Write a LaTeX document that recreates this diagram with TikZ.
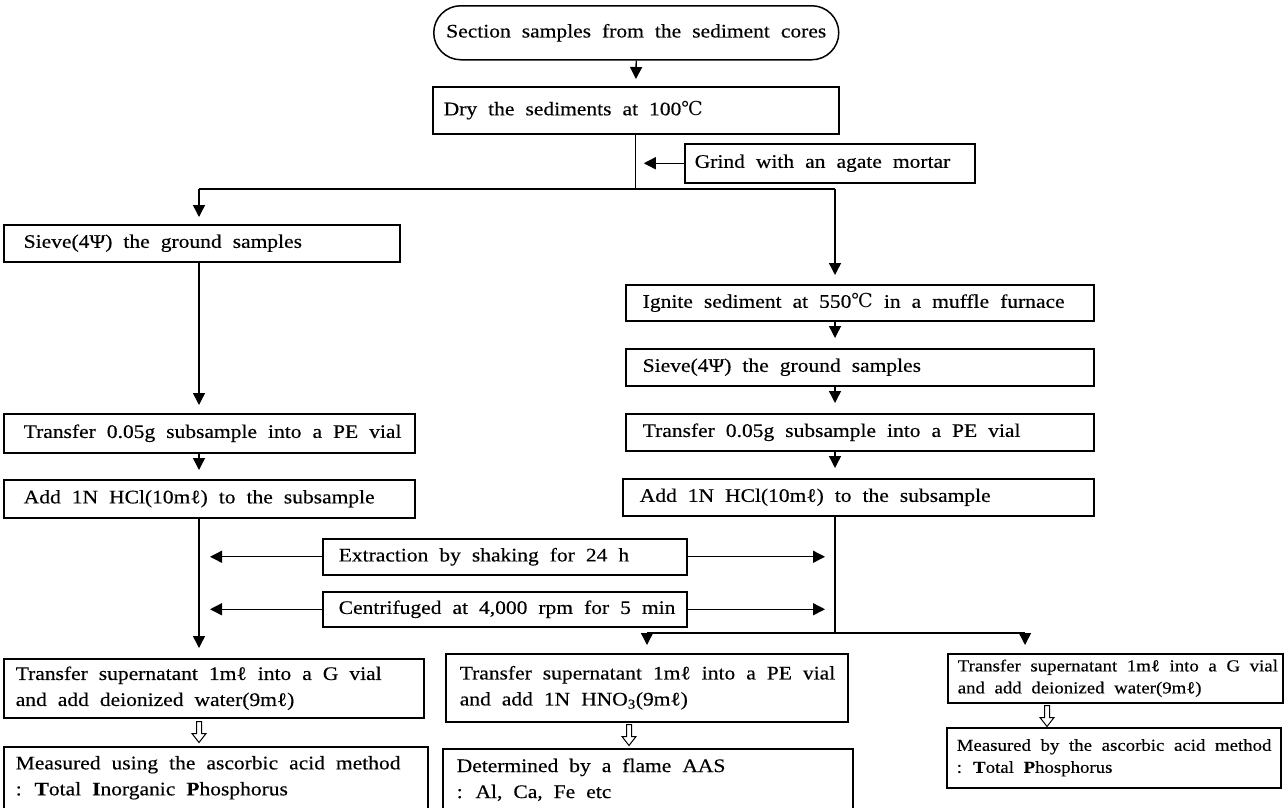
\documentclass[tikz,border=0pt]{standalone}
\usepackage{fontspec}
\setmainfont{Liberation Serif}[FakeStretch=1.12,WordSpace=2.05,FakeBold=0.35]
\newfontfamily\symf{DejaVu Serif}
\usetikzlibrary{arrows.meta}
\newcommand\degC{{\symf ℃}}
\newcommand\BoxLine[3]{\makebox[\dimexpr#1pt-6pt\relax][l]{\hspace*{\dimexpr#2pt-3pt\relax}#3}}
\begin{document}
\begin{tikzpicture}[x=1pt,y=-1pt,
  font=\fontsize{19.2}{26}\selectfont,
  bx/.style={draw, line width=1.5pt, anchor=north west, align=left, inner xsep=3pt, inner ysep=0pt},
  arr/.style={line width=1.4pt, -{Triangle[length=12pt,width=12pt]}},
  ln/.style={line width=1.4pt},
  hollowarrow/.pic={\draw[line width=1pt] (-2.5,0) -- (-2.5,12) -- (-7,12) -- (0,21) -- (7,12) -- (2.5,12) -- (2.5,0) -- cycle;}]
\useasboundingbox (0,0) rectangle (1284,807);
\fill[white] (0,0) rectangle (1284,807);
\clip (0,0) rectangle (1284,807);

% top part
\node[draw, line width=1.5pt, rounded corners=27pt, anchor=north west, minimum width=405pt, minimum height=54pt, inner sep=0pt] (top) at (433,5) {Section samples from the sediment cores};
\node[bx, minimum height=47pt] (dry) at (432,86) {\BoxLine{406}{11}{Dry the sediments at 100\degC}};
\node[bx, minimum height=39pt] (grind) at (684,143) {\BoxLine{290}{10}{Grind with an agate mortar}};

% left column
\node[bx, minimum height=37pt] (sieveL) at (3,224) {\BoxLine{396}{20}{Sieve(4Ψ) the ground samples}};
\node[bx, minimum height=39pt] (transL) at (3,413) {\BoxLine{411}{20}{Transfer 0.05g subsample into a PE vial}};
\node[bx, minimum height=38pt] (addL) at (3,479) {\BoxLine{411}{20}{Add 1N HCl(10mℓ) to the subsample}};

% right column
\node[bx, minimum height=36pt] (ignite) at (625,284) {\BoxLine{468}{17}{Ignite sediment at 550\degC{} in a muffle furnace}};
\node[bx, minimum height=37pt] (sieveR) at (625,348) {\BoxLine{468}{17}{Sieve(4Ψ) the ground samples}};
\node[bx, minimum height=37pt] (transR) at (625,413) {\BoxLine{468}{17}{Transfer 0.05g subsample into a PE vial}};
\node[bx, minimum height=37pt] (addR) at (622,478) {\BoxLine{471}{17}{Add 1N HCl(10mℓ) to the subsample}};

% middle steps
\node[bx, minimum height=36pt] (extr) at (322,538) {\BoxLine{364}{16}{Extraction by shaking for 24 h}};
\node[bx, minimum height=35pt] (centr) at (322,591) {\BoxLine{364}{16}{Centrifuged at 4,000 rpm for 5 min}};

% bottom row
\node[bx, minimum height=59pt] (bL1) at (3,658) {\BoxLine{420}{12}{Transfer supernatant 1mℓ into a G vial}\\\BoxLine{420}{12}{and add deionized water(9mℓ)}};
\node[bx, minimum height=62pt] (bL2) at (3,746) {\BoxLine{424}{12}{Measured using the ascorbic acid method}\\\BoxLine{424}{12}{: \textbf{T}otal \textbf{I}norganic \textbf{P}hosphorus}};
\node[bx, minimum height=68pt] (bM1) at (445,653) {\BoxLine{402}{14}{Transfer supernatant 1mℓ into a PE vial}\\\BoxLine{402}{14}{and add 1N HNO\textsubscript{3}(9mℓ)}};
\node[bx, minimum height=62pt] (bM2) at (442,748) {\BoxLine{410}{14}{Determined by a flame AAS}\\\BoxLine{410}{14}{: Al, Ca, Fe etc}};
\node[bx, minimum height=49pt, font=\fontsize{16.8}{22}\selectfont] (bR1) at (947,653) {\BoxLine{335}{10}{Transfer supernatant 1mℓ into a G vial}\\\BoxLine{335}{10}{and add deionized water(9mℓ)}};
\node[bx, minimum height=60pt, font=\fontsize{16.8}{22}\selectfont] (bR2) at (946,727) {\BoxLine{334}{10}{Measured by the ascorbic acid method}\\\BoxLine{334}{10}{: \textbf{T}otal \textbf{P}hosphorus}};

% coordinates
\coordinate (cL) at (199,0);
\coordinate (cR) at (835,0);
\coordinate (spL) at (199,189);
\coordinate (spR) at (835,189);
\coordinate (jR) at (835,633);
\coordinate (jM) at (647,633);
\coordinate (jRR) at (1025,633);

% connectors
\draw[arr, shorten >=7pt] (top.south) -- (dry.north);
\draw[ln] (dry.south) -- (dry.south |- spL);
\draw[arr, shorten >=8pt] (grind.west) -- (grind.west -| dry.south);
\draw[ln] (spL) -- (spR);
\draw[arr, shorten >=7pt] (spL) -- (spL |- sieveL.north);
\draw[arr, shorten >=9pt] (spR) -- (spR |- ignite.north);

\draw[arr, shorten >=8pt] (sieveL.south -| cL) -- (transL.north -| cL);
\draw[arr, shorten >=9pt] (transL.south -| cL) -- (addL.north -| cL);
\draw[arr, shorten >=10pt] (addL.south -| cL) -- (bL1.north -| cL);

\draw[arr, shorten >=10pt] (ignite.south -| cR) -- (sieveR.north -| cR);
\draw[arr, shorten >=10pt] (sieveR.south -| cR) -- (transR.north -| cR);
\draw[arr, shorten >=10pt] (transR.south -| cR) -- (addR.north -| cR);
\draw[ln] (addR.south -| cR) -- (jR);
\draw[ln] (jM) -- (jRR);
\draw[arr, shorten >=8pt] (jM) -- (jM |- bM1.north);
\draw[arr, shorten >=8pt] (jRR) -- (jRR |- bR1.north);

\draw[arr, shorten >=11pt] (extr.west) -- (extr.west -| cL);
\draw[arr, shorten >=10pt] (extr.east) -- (extr.east -| cR);
\draw[arr, shorten >=11pt] (centr.west) -- (centr.west -| cL);
\draw[arr, shorten >=10pt] (centr.east) -- (centr.east -| cR);

% hollow arrows
\path (bL1.south -| cL) ++(0,3) pic {hollowarrow};
\path (bM1.south -| 629,0) ++(0,2) pic {hollowarrow};
\path (bR1.south -| 1047,0) ++(0,2) pic {hollowarrow};
\end{tikzpicture}
\end{document}
